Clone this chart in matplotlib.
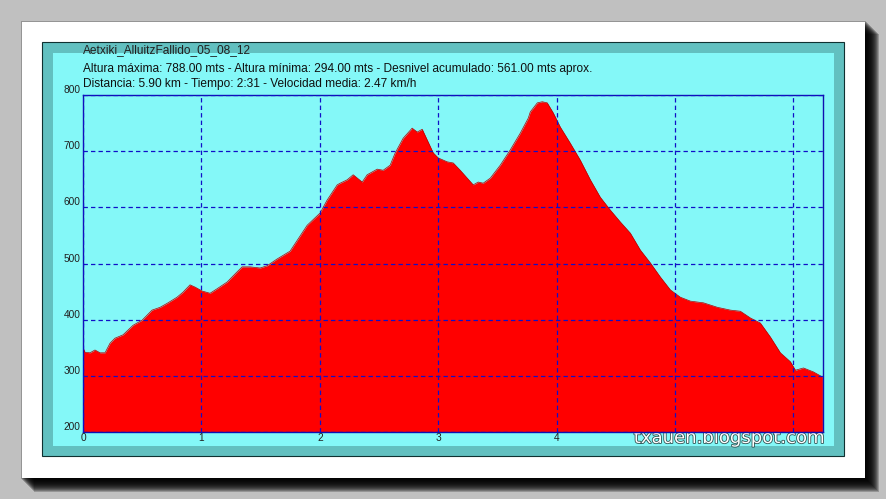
import matplotlib
matplotlib.use("Agg")
import matplotlib.pyplot as plt
import matplotlib.patheffects as pe
from matplotlib.patches import Rectangle

# perfil de la ruta (km, metros)
km = [0.00, 0.017, 0.059, 0.101, 0.144, 0.186, 0.228, 0.270, 0.338, 0.423,
      0.499, 0.583, 0.651, 0.718, 0.794, 0.845, 0.904, 0.946, 1.006, 1.073,
      1.132, 1.217, 1.301, 1.344, 1.411, 1.496, 1.555, 1.639, 1.749, 1.893,
      2.003, 2.062, 2.147, 2.172, 2.231, 2.282, 2.358, 2.400, 2.485, 2.535,
      2.594, 2.637, 2.704, 2.780, 2.823, 2.865, 2.907, 2.958, 3.000, 3.076,
      3.127, 3.186, 3.245, 3.296, 3.338, 3.380, 3.440, 3.524, 3.608, 3.693,
      3.761, 3.778, 3.837, 3.879, 3.921, 3.972, 4.031, 4.116, 4.200, 4.285,
      4.369, 4.454, 4.538, 4.623, 4.707, 4.792, 4.876, 4.961, 5.045, 5.130,
      5.240, 5.358, 5.468, 5.552, 5.637, 5.721, 5.806, 5.890, 5.975, 6.017,
      6.085, 6.169, 6.245]
altura = [350, 342, 341, 346, 341, 341, 358, 367, 373, 390,
          399, 417, 422, 430, 440, 449, 462, 458, 451, 447,
          455, 467, 485, 494, 494, 492, 496, 508, 522, 568,
          590, 613, 640, 643, 649, 658, 645, 658, 668, 666,
          675, 697, 723, 741, 734, 739, 720, 697, 688, 681,
          679, 666, 652, 640, 645, 643, 652, 675, 702, 732,
          759, 770, 786, 788, 786, 768, 743, 714, 684, 649,
          618, 595, 574, 554, 524, 501, 476, 453, 440, 433,
          430, 422, 417, 415, 403, 394, 369, 341, 325, 310,
          314, 307, 298]

xticks = [0, 1, 2, 3, 4, 5, 6]
xlabels = ['0', '1', '2', '3', '4', '', '']
yticks = [200, 300, 400, 500, 600, 700, 800]

titulo = "Aetxiki_AlluitzFallido_05_08_12"
linea2 = "Altura máxima: 788.00 mts - Altura mínima: 294.00 mts - Desnivel acumulado: 561.00 mts aprox."
linea3 = "Distancia: 5.90 km - Tiempo: 2:31 - Velocidad media: 2.47 km/h"

plt.rcParams['font.family'] = ['Liberation Sans', 'DejaVu Sans']

W, H = 887, 499
fig = plt.figure(figsize=(W / 100, H / 100), dpi=100)
fig.patch.set_facecolor('#c0c0c0')

# fondo: tarjeta blanca con sombra y marcos
bg = fig.add_axes([0, 0, 1, 1])
bg.set_xlim(0, W)
bg.set_ylim(H, 0)
bg.axis('off')
for d in range(1, 15):
    bg.add_patch(Rectangle((20 + d, 20 + d), 845, 458, facecolor='black',
                           edgecolor='none', alpha=0.22))
bg.add_patch(Rectangle((22, 22), 843, 456, facecolor='white', edgecolor='none'))
bg.add_patch(Rectangle((42, 42), 802, 414, facecolor='#62c0c0', edgecolor='#103030', lw=0.8))
bg.add_patch(Rectangle((53, 53), 781, 393, facecolor='#84f8f8', edgecolor='none'))

bg.text(83, 50, titulo, fontsize=8.6, color='#202020', va='center', ha='left')
bg.text(83, 69, linea2, fontsize=8.6, color='#101010', va='center', ha='left')
bg.text(83, 84, linea3, fontsize=8.6, color='#101010', va='center', ha='left')

# grafico del perfil
ax = fig.add_axes([83 / W, 1 - 432 / H, 740 / W, 337 / H])
ax.set_facecolor('none')
ax.fill_between(km, altura, 200, color='#ff0000', lw=0, zorder=1)
ax.plot(km, altura, color='#b00000', lw=0.5, zorder=1.5)
ax.set_xlim(0, 6.25)
ax.set_ylim(200, 800)
ax.set_xticks(xticks)
ax.set_xticklabels(xlabels)
ax.set_yticks(yticks)
ax.set_yticklabels([str(v) for v in yticks], va='bottom')
ax.tick_params(length=0, labelsize=7.3, colors='#202020', pad=2)
ax.tick_params(axis='x', pad=1)
ax.set_axisbelow(False)
ax.grid(True, color='#1010c8', linestyle=(0, (3.5, 2.5)), lw=0.9)
for s in ax.spines.values():
    s.set_color('#1010b0')
    s.set_linewidth(1.0)

bg.text(729, 438, "txauen.blogspot.com", fontsize=13, color='white', va='center',
        ha='center', family=['DejaVu Sans'], zorder=10,
        path_effects=[pe.withStroke(linewidth=1.2, foreground='#305050')])

fig.savefig('out.png', dpi=100, facecolor=fig.get_facecolor())
